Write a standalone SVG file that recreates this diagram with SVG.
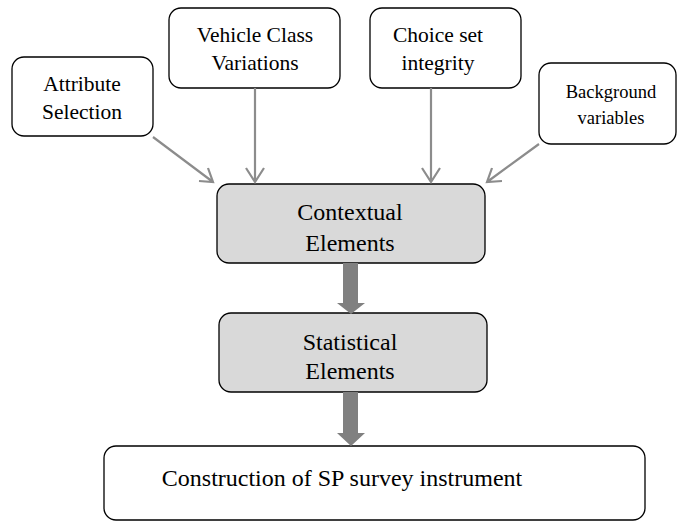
<svg xmlns="http://www.w3.org/2000/svg" width="677" height="523" viewBox="0 0 677 523">
<style>
.box{fill:#fff;stroke:#000;stroke-width:1.3}
.gbox{fill:#d9d9d9;stroke:#000;stroke-width:1.3}
text{font-family:"Liberation Serif","Times New Roman",serif;fill:#000;text-anchor:middle}
.t{font-size:21.5px}
.s{font-size:18.5px}
.g{font-size:24px}
.b{font-size:24px}
.thin{stroke:#8c8c8c;stroke-width:2.2;fill:none}
.fat{fill:#808080}
</style>
<rect width="677" height="523" fill="#fff"/>
<g id="attr"><rect class="box" x="12" y="57" width="141" height="79" rx="12"/><text class="t" x="82" y="91">Attribute</text><text class="t" x="82" y="119">Selection</text></g>
<g id="vehicle"><rect class="box" x="169" y="8" width="171" height="80" rx="12"/><text class="t" x="255" y="42">Vehicle Class</text><text class="t" x="255" y="70">Variations</text></g>
<g id="choice"><rect class="box" x="370" y="8" width="151" height="80" rx="12"/><text class="t" x="438" y="42">Choice set</text><text class="t" x="438" y="70">integrity</text></g>
<g id="background"><rect class="box" x="539" y="63" width="137" height="81" rx="12"/><text class="s" x="611" y="98">Background</text><text class="s" x="611" y="124">variables</text></g>
<g id="contextual"><rect class="gbox" x="217" y="184" width="268" height="79" rx="12"/><text class="g" x="350" y="220">Contextual</text><text class="g" x="350" y="251">Elements</text></g>
<g id="statistical"><rect class="gbox" x="219" y="313" width="268" height="79" rx="12"/><text class="g" x="350" y="350">Statistical</text><text class="g" x="350" y="379">Elements</text></g>
<g id="construction"><rect class="box" x="104" y="446" width="541" height="74" rx="12"/><text class="b" x="342" y="486">Construction of SP survey instrument</text></g>
<g id="connectors">
<path class="thin" d="M153,137 L213,182 M199,181 L213,182 L208,168"/>
<path class="thin" d="M255,88 L255,182 M246,168 L255,182 L264,168"/>
<path class="thin" d="M431,88 L431,182 M422,168 L431,182 L440,168"/>
<path class="thin" d="M539,144 L487,182 M492,168 L487,182 L502,181"/>
<path class="fat" d="M343,263 H358 V303 H365 L351,314 L337,303 H343 Z"/>
<path class="fat" d="M343,392 H358 V433 H365 L351,446 L337,433 H343 Z"/>
</g>
</svg>
